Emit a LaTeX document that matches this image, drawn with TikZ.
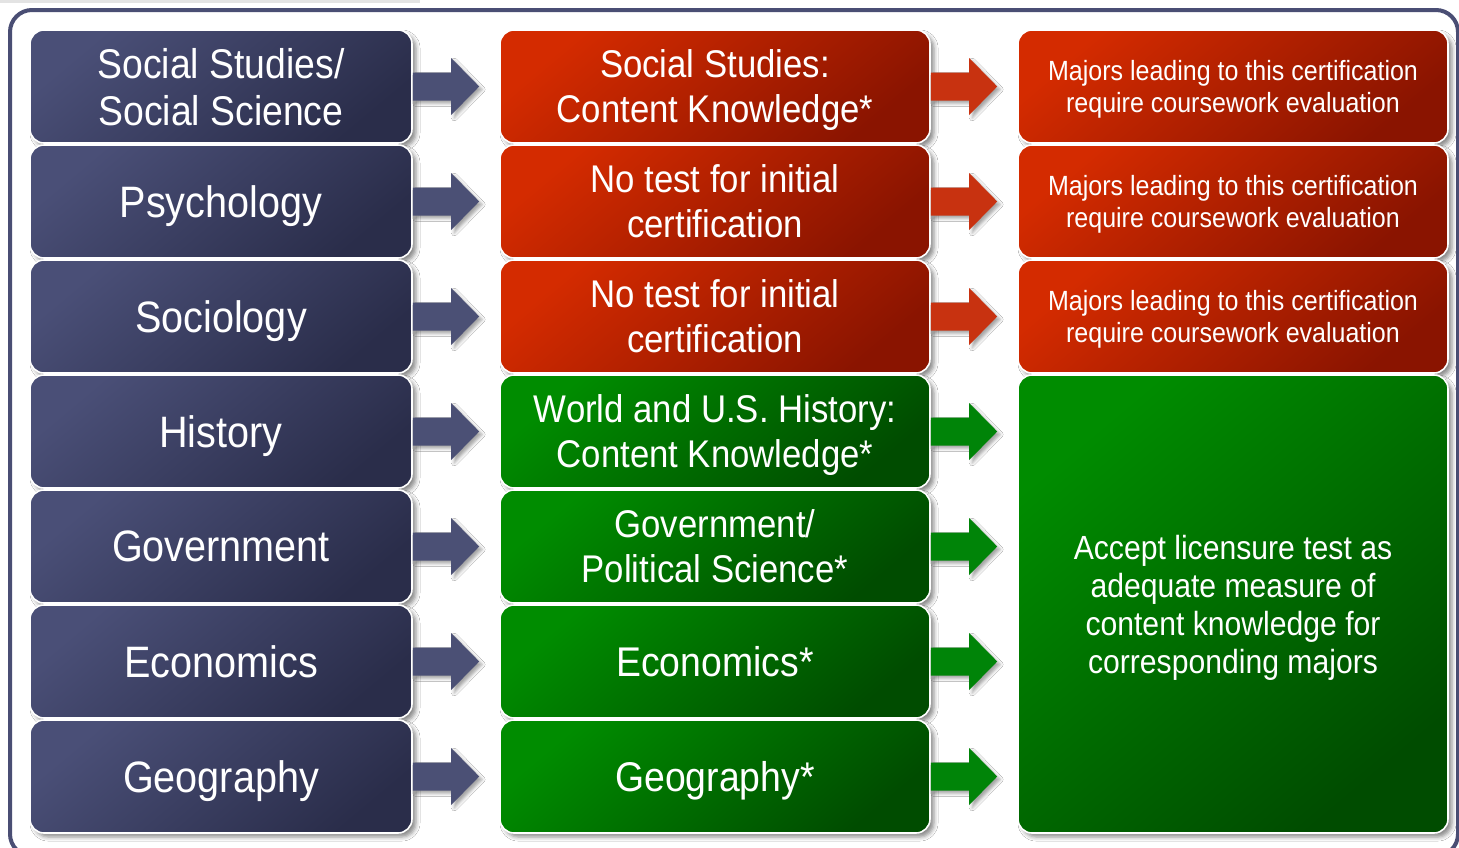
\documentclass[tikz,border=0pt]{standalone}
\usepackage{fontspec}
\setmainfont{Liberation Sans}[FakeStretch=0.9]
\usetikzlibrary{calc,shadows.blur}
\definecolor{bluetl}{HTML}{4A4F77}
\definecolor{bluebr}{HTML}{2A2D4A}
\definecolor{redtl}{HTML}{D42B00}
\definecolor{redbr}{HTML}{8A1400}
\definecolor{greentl}{HTML}{008C00}
\definecolor{greenbr}{HTML}{004C00}
\definecolor{framecol}{HTML}{4A4E74}
\definecolor{arrblue}{HTML}{4B5075}
\definecolor{arrred}{HTML}{C83210}
\definecolor{arrgreen}{HTML}{008408}
\tikzset{
  box/.style={draw=white, line width=1.6pt, rounded corners=14pt, text=white,
    align=center, inner sep=0pt, text depth=0pt,
    blur shadow={shadow xshift=4pt, shadow yshift=-4pt, shadow blur radius=4pt, shadow opacity=45}},
  bluebox/.style={box, minimum width=382pt, minimum height=113pt,
    top color=bluetl, bottom color=bluebr, shading angle=40},
  redbox/.style={box, minimum width=430pt, minimum height=113pt,
    top color=redtl, bottom color=redbr, shading angle=40},
  greenbox/.style={box, minimum width=430pt, minimum height=113pt,
    top color=greentl, bottom color=greenbr, shading angle=40},
  bigfont/.style={font=\fontsize{44}{50}\selectfont},
  twofont/.style={font=\fontsize{41.5}{47}\selectfont},
  midfont/.style={font=\fontsize{38.6}{45}\selectfont},
  midonefont/.style={font=\fontsize{41.5}{47}\selectfont},
  smallfont/.style={font=\fontsize{27.8}{32}\selectfont},
  acceptfont/.style={font=\fontsize{33.5}{38}\selectfont},
  arrowshadow/.style={blur shadow={shadow xshift=3pt, shadow yshift=-3pt, shadow blur radius=3pt, shadow opacity=35}},
}
\newcommand\blockarr[3]{%
  \fill[#3, arrowshadow]
    ($(#1.east)+(0,-14)$) -- ($(#1.east -| #2.west)+(-48,-14)$)
    -- ($(#1.east -| #2.west)+(-48,-28.5)$) -- ($(#1.east -| #2.west)+(-20,0)$)
    -- ($(#1.east -| #2.west)+(-48,28.5)$) -- ($(#1.east -| #2.west)+(-48,14)$)
    -- ($(#1.east)+(0,14)$) -- cycle;}
\begin{document}
\begin{tikzpicture}[x=1pt,y=-1pt]
\useasboundingbox (0,0) rectangle (1459,847);
\fill[white] (0,0) rectangle (1459,847);
\fill[gray!22] (0,0) rectangle (420,2.5);
\draw[framecol, line width=4pt, rounded corners=22pt] (10,10) rectangle (1458,856);
% left column
\node[bluebox, twofont] (L1) at (221,86.5) {Social Studies/\\Social Science};
\node[bluebox, bigfont] (L2) at (221,201.5) {Psychology};
\node[bluebox, bigfont] (L3) at (221,316.5) {Sociology};
\node[bluebox, bigfont] (L4) at (221,431.5) {History};
\node[bluebox, bigfont] (L5) at (221,546.5) {Government};
\node[bluebox, bigfont] (L6) at (221,661.5) {Economics};
\node[bluebox, bigfont] (L7) at (221,776.5) {Geography};
% middle column
\node[redbox, midfont] (M1) at (715,86.5) {Social Studies:\\Content Knowledge*};
\node[redbox, midfont] (M2) at (715,201.5) {No test for initial\\certification};
\node[redbox, midfont] (M3) at (715,316.5) {No test for initial\\certification};
\node[greenbox, midfont] (M4) at (715,431.5) {World and U.S. History:\\Content Knowledge*};
\node[greenbox, midfont] (M5) at (715,546.5) {Government/\\Political Science*};
\node[greenbox, midonefont] (M6) at (715,661.5) {Economics*};
\node[greenbox, midonefont] (M7) at (715,776.5) {Geography*};
% right column
\node[redbox, smallfont] (R1) at (1233,86.5) {Majors leading to this certification\\require coursework evaluation};
\node[redbox, smallfont] (R2) at (1233,201.5) {Majors leading to this certification\\require coursework evaluation};
\node[redbox, smallfont] (R3) at (1233,316.5) {Majors leading to this certification\\require coursework evaluation};
\node[greenbox, acceptfont, minimum height=458pt] (R4) at (1233,604) {Accept licensure test as\\adequate measure of\\content knowledge for\\corresponding majors};
% arrows
\foreach \i in {1,...,7} {\blockarr{L\i}{M\i}{arrblue}}
\blockarr{M1}{R1}{arrred}
\blockarr{M2}{R2}{arrred}
\blockarr{M3}{R3}{arrred}
\foreach \i in {4,...,7} {\blockarr{M\i}{R4}{arrgreen}}
\end{tikzpicture}
\end{document}
